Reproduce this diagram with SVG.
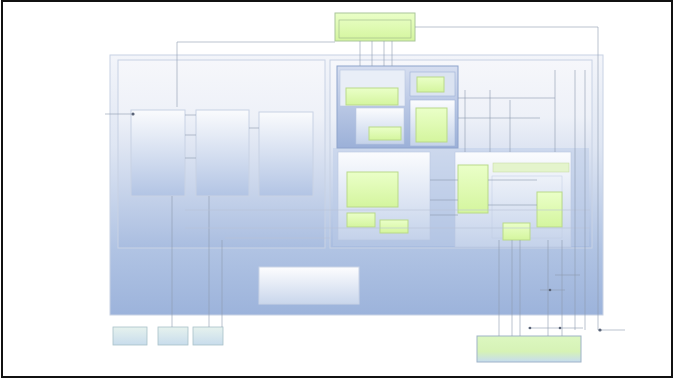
<svg xmlns="http://www.w3.org/2000/svg" width="675" height="380" viewBox="0 0 675 380">
<defs>
<linearGradient id="gOuter" x1="0" y1="0" x2="0" y2="1">
<stop offset="0" stop-color="#f3f5fa"/><stop offset="0.35" stop-color="#dfe6f3"/><stop offset="0.75" stop-color="#b0c3e3"/><stop offset="1" stop-color="#9cb3db"/></linearGradient>
<linearGradient id="gPanel" x1="0" y1="0" x2="0" y2="1">
<stop offset="0" stop-color="#f6f7fb"/><stop offset="0.3" stop-color="#eef1f8"/><stop offset="1" stop-color="#a9bde0"/></linearGradient>
<linearGradient id="gCol" x1="0" y1="0" x2="0" y2="1">
<stop offset="0" stop-color="#fafbfd"/><stop offset="1" stop-color="#b2c4e4"/></linearGradient>
<linearGradient id="gDark" x1="0" y1="0" x2="0" y2="1">
<stop offset="0" stop-color="#d6def0"/><stop offset="1" stop-color="#9bb0d8"/></linearGradient>
<linearGradient id="gWhite" x1="0" y1="0" x2="0" y2="1">
<stop offset="0" stop-color="#fbfcfe"/><stop offset="1" stop-color="#c4d2ea"/></linearGradient>
<linearGradient id="gGreen" x1="0" y1="0" x2="0" y2="1">
<stop offset="0" stop-color="#eaffc8"/><stop offset="1" stop-color="#d4f59e"/></linearGradient>
<linearGradient id="gGreenBlue" x1="0" y1="0" x2="0" y2="1">
<stop offset="0" stop-color="#dcf7c0"/><stop offset="0.6" stop-color="#d6f2b6"/><stop offset="1" stop-color="#c6dcf0"/></linearGradient>
<linearGradient id="gSmall" x1="0" y1="0" x2="0" y2="1">
<stop offset="0" stop-color="#e6f2ee"/><stop offset="1" stop-color="#c8dcec"/></linearGradient>
<linearGradient id="gCenter" x1="0" y1="0" x2="0" y2="1">
<stop offset="0" stop-color="#fdfdfe"/><stop offset="1" stop-color="#c9d6ec"/></linearGradient>
</defs>
<style>
.frame{fill:#ffffff;stroke:#111;stroke-width:2}
.cont{stroke:#c8d2e4;stroke-width:1}
.green{fill:url(#gGreen);stroke:#b9d98a;stroke-width:1}
.conn{fill:none;stroke:#8f9bb0;stroke-width:0.6}
.connl{fill:none;stroke:#b8c3d6;stroke-width:0.6}
.dot{fill:#5a6478}
</style>
<rect class="frame" x="2" y="1" width="670" height="376"/>

<g id="outer"><rect class="cont" x="110" y="55" width="493" height="260" fill="url(#gOuter)"/></g>
<g id="leftPanel"><rect class="cont" x="118" y="60" width="207" height="188" fill="url(#gPanel)"/></g>
<g id="col1"><rect class="cont" x="131" y="110" width="54" height="86" fill="url(#gCol)"/></g>
<g id="col2"><rect class="cont" x="196" y="110" width="53" height="86" fill="url(#gCol)"/></g>
<g id="col3"><rect class="cont" x="259" y="112" width="54" height="84" fill="url(#gCol)"/></g>
<g id="rightPanel"><rect class="cont" x="330" y="60" width="262" height="188" fill="url(#gPanel)"/>
<rect x="333" y="148" width="256" height="98" fill="#bccbe7" opacity="0.5"/></g>

<g id="topGroup">
<rect x="337" y="66" width="121" height="82" fill="url(#gDark)" stroke="#8ea3cc" stroke-width="1"/>
<rect x="340" y="70" width="65" height="36" fill="#e9eef7" stroke="#b8c6e0" stroke-width="0.6"/>
<rect x="356" y="108" width="48" height="36" fill="url(#gWhite)" stroke="#b8c6e0" stroke-width="0.6"/>
<rect x="410" y="72" width="45" height="24" fill="#dbe3f1" stroke="#9fb1d6" stroke-width="0.6"/>
<rect x="410" y="100" width="45" height="46" fill="url(#gWhite)" stroke="#9fb1d6" stroke-width="0.6"/>
</g>
<g id="n1"><rect class="green" x="346" y="88" width="52" height="17"/></g>
<g id="n2"><rect class="green" x="369" y="127" width="32" height="13"/></g>
<g id="n3"><rect class="green" x="417" y="77" width="27" height="15"/></g>
<g id="n4"><rect class="green" x="416" y="108" width="31" height="34"/></g>

<g id="lowerLeft">
<rect x="338" y="152" width="92" height="88" fill="url(#gWhite)" stroke="#b8c6e0" stroke-width="0.6"/>
</g>
<g id="n5"><rect class="green" x="347" y="172" width="51" height="35"/></g>
<g id="n6"><rect class="green" x="347" y="213" width="28" height="14"/></g>
<g id="n7"><rect class="green" x="380" y="220" width="28" height="13"/></g>

<g id="lowerRight">
<rect x="455" y="152" width="116" height="95" fill="url(#gWhite)" stroke="#b8c6e0" stroke-width="0.6"/>
<rect x="493" y="163" width="76" height="9" fill="#e4f4cc" stroke="#c3d8a0" stroke-width="0.5"/>
<rect x="492" y="176" width="70" height="62" fill="none" stroke="#c0cce2" stroke-width="0.5"/>
</g>
<g id="n8"><rect class="green" x="458" y="165" width="30" height="48"/></g>
<g id="n9"><rect class="green" x="537" y="192" width="25" height="35"/></g>
<g id="n10"><rect class="green" x="503" y="223" width="27" height="17"/></g>

<g id="center"><rect x="259" y="267" width="100" height="37" fill="url(#gCenter)" stroke="#c9d3e6" stroke-width="1"/></g>

<g id="top"><rect x="335" y="13" width="80" height="28" fill="url(#gGreen)" stroke="#aac69a" stroke-width="1"/>
<rect x="339" y="20" width="72" height="18" fill="none" stroke="#9ab58a" stroke-width="0.6"/></g>

<g id="s1"><rect x="113" y="327" width="34" height="18" fill="url(#gSmall)" stroke="#a9c0c8" stroke-width="0.8"/></g>
<g id="s2"><rect x="158" y="327" width="30" height="18" fill="url(#gSmall)" stroke="#a9c0c8" stroke-width="0.8"/></g>
<g id="s3"><rect x="193" y="327" width="30" height="18" fill="url(#gSmall)" stroke="#a9c0c8" stroke-width="0.8"/></g>

<g id="bottomRight"><rect x="477" y="336" width="104" height="26" fill="url(#gGreenBlue)" stroke="#9fb3c8" stroke-width="1"/></g>

<g id="connectors">
<path class="conn" d="M177 107 V42 H335"/>
<path class="conn" d="M415 27 H598 V330"/>
<path class="conn" d="M105 114 H131"/>
<path class="conn" d="M185 115 H196"/>
<path class="conn" d="M185 135 H196"/>
<path class="conn" d="M185 158 H196"/>
<path class="conn" d="M249 128 H259"/>
<path class="conn" d="M209 196 V327"/>
<path class="conn" d="M172 196 V327"/>
<path class="conn" d="M222 240 V327"/>
<path class="connl" d="M185 210 H590"/>
<path class="connl" d="M185 228 H590"/>
<path class="connl" d="M225 238 H330"/>
<path class="conn" d="M360 41 V66"/>
<path class="conn" d="M372 41 V66"/>
<path class="conn" d="M384 41 V66"/>
<path class="conn" d="M392 41 V66"/>
<path class="conn" d="M465 90 V152"/>
<path class="conn" d="M490 90 V152"/>
<path class="conn" d="M510 100 V152"/>
<path class="conn" d="M555 70 V152"/>
<path class="conn" d="M575 70 V330"/>
<path class="conn" d="M585 70 V330"/>
<path class="conn" d="M458 98 H555"/>
<path class="conn" d="M458 118 H540"/>
<path class="conn" d="M430 180 H458"/>
<path class="conn" d="M430 200 H458"/>
<path class="conn" d="M430 215 H458"/>
<path class="conn" d="M488 180 H537"/>
<path class="conn" d="M488 205 H537"/>
<path class="conn" d="M499 240 V336"/>
<path class="conn" d="M512 240 V336"/>
<path class="conn" d="M520 240 V336"/>
<path class="conn" d="M548 240 V336"/>
<path class="conn" d="M562 240 V336"/>
<path class="conn" d="M528 328 H583"/>
<path class="conn" d="M598 330 H625"/>
<path class="conn" d="M540 290 H565"/>
<path class="conn" d="M555 275 H580"/>
<circle class="dot" cx="133" cy="114" r="1.6"/>
<circle class="dot" cx="600" cy="330" r="1.6"/>
<circle class="dot" cx="530" cy="328" r="1.3"/>
<circle class="dot" cx="560" cy="328" r="1.3"/>
<circle class="dot" cx="550" cy="290" r="1.3"/>
</g>
</svg>
